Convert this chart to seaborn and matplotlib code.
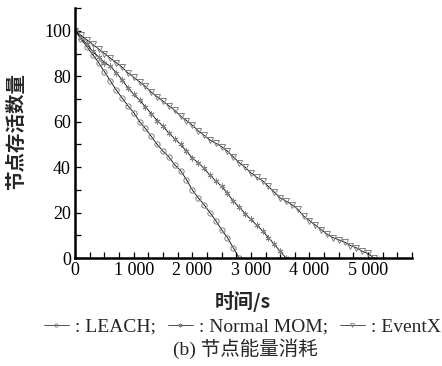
import numpy as np
import pandas as pd
import matplotlib
matplotlib.use("Agg")
import matplotlib.pyplot as plt
import seaborn as sns
from matplotlib.ticker import MultipleLocator, FuncFormatter
from matplotlib.lines import Line2D

sns.set_style("ticks")
plt.rcParams['font.family'] = ['Liberation Serif', 'Noto Sans CJK SC']

# time axis (s), one sample every 100 s
leach_t = list(range(0, 2900, 100))
leach_n = [100, 96.5, 93, 89.5, 86, 82, 78, 74, 70.5, 67, 64, 60, 57, 53.5, 50,
           47, 44.5, 41, 38.5, 34.5, 30, 26.5, 23.5, 20, 16.5, 12.5, 9, 4.5, 0]

mom_t = list(range(0, 3700, 100))
mom_n = [100, 97, 94, 91, 88.5, 86, 84.5, 81.5, 78.5, 75, 72, 69.5, 66.5, 63.5,
         60.5, 58, 55, 52.5, 50, 47, 44, 42, 39.5, 36.5, 34, 31.5, 28.5, 25,
         22.5, 19.5, 17, 14.5, 12, 9, 6, 3, 0]

evx_t = list(range(0, 5200, 100))
evx_n = [100, 98, 96, 94, 92, 90, 88, 86, 84, 81.5, 79.5, 77.5, 75.5, 73, 71,
         69, 67, 65, 62.5, 60.5, 58.5, 56, 54, 52, 50.5, 49, 47, 44.5, 42, 40,
         37.5, 35.5, 34, 31.5, 29, 26.5, 25, 23.5, 21.5, 18.5, 16.5, 14.5, 12.5,
         10.5, 9, 8, 7, 5.5, 4.5, 3, 2, 0]

series = [
    ("LEACH", leach_t, leach_n, "o"),
    ("Normal MOM", mom_t, mom_n, (6, 2, 0)),
    ("EventX", evx_t, evx_n, "v"),
]

fig = plt.figure(figsize=(4.42, 3.66), dpi=100)
ax = fig.add_axes([0.170, 0.295, 0.762, 0.683])

mk_col = "#808080"
handles = []
for name, t, n, mk in series:
    df = pd.DataFrame({"t": t, "n": n})
    face = mk_col if mk == (6, 2, 0) else "none"
    sns.lineplot(data=df, x="t", y="n", ax=ax, color="black", linewidth=0.6,
                 marker=mk, markersize=3.8 if mk == "o" else 4.2,
                 markerfacecolor=face, markeredgecolor=mk_col,
                 markeredgewidth=0.7)
    handles.append(Line2D([], [], color="#333333", linewidth=0.6, marker=mk,
                          markersize=2.4 if mk == "o" else 2.8,
                          markerfacecolor=face, markeredgecolor=mk_col,
                          markeredgewidth=0.6))

ax.set_xlim(0, 5750)
ax.set_ylim(0, 110)
ax.xaxis.set_major_locator(MultipleLocator(1000))
ax.xaxis.set_minor_locator(MultipleLocator(250))
ax.yaxis.set_major_locator(MultipleLocator(20))
ax.yaxis.set_minor_locator(MultipleLocator(10))
ax.xaxis.set_major_formatter(FuncFormatter(
    lambda v, p: "0" if v == 0 else f"{int(v)//1000} {int(v)%1000:03d}"))
ax.tick_params(axis="both", which="both", direction="in", width=0.9,
               labelsize=13, colors="black")
ax.tick_params(axis="both", which="major", length=4.5, pad=3)
ax.tick_params(axis="both", which="minor", length=4)
for s in ["top", "right"]:
    ax.spines[s].set_visible(False)
for s in ["left", "bottom"]:
    ax.spines[s].set_linewidth(1.8)
    ax.spines[s].set_color("black")
ax.set_xlabel("")
ax.set_ylabel("")

fig.text(0.038, 0.640, "节点存活数量", rotation=90, ha="center", va="center",
         fontsize=14, fontweight="bold", family=["Noto Sans CJK SC"])
fig.text(0.55, 0.175, "时间/s", ha="center", va="center",
         fontsize=14, fontweight="bold", family=["Noto Sans CJK SC", "Liberation Serif"])

fig.legend(handles, [": LEACH;", ": Normal MOM;", ": EventX"], ncol=3,
           loc="center", bbox_to_anchor=(0.548, 0.107), frameon=False,
           handlelength=1.3, handletextpad=0.3, columnspacing=0.6,
           prop={"family": "Liberation Serif", "size": 14})

fig.text(0.555, 0.046, "(b) 节点能量消耗", ha="center", va="center",
         fontsize=14, family=["Liberation Serif", "Noto Sans CJK SC"])

fig.savefig("out.png", dpi=100)
